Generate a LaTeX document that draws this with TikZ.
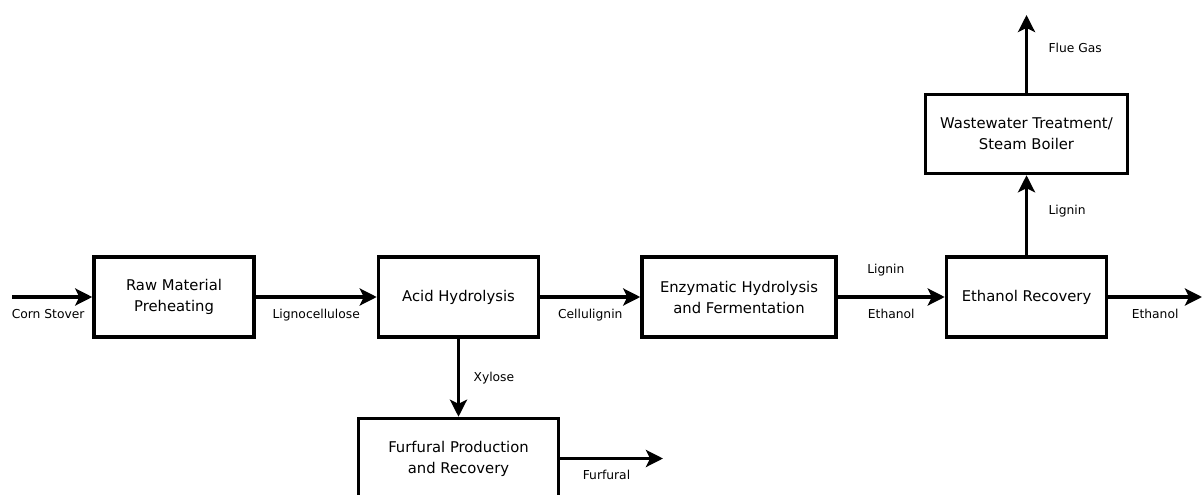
\documentclass[tikz,border=0pt]{standalone}
\usepackage{fontspec}
\setmainfont{DejaVu Sans}
\usetikzlibrary{arrows.meta,positioning}

\begin{document}
\begin{tikzpicture}[x=1pt,y=-1pt,-{Stealth[length=17pt,width=17pt,inset=4pt]},line width=3.5pt,
    proc node/.style={draw,-,minimum height=80pt,align=center,inner sep=2pt,font=\fontsize{14.8}{21}\selectfont},
    flow label/.style={draw=none,font=\fontsize{12.3}{14}\selectfont}]
                \clip (0,0) rectangle (1202,495);

                \node[proc node,minimum width=160pt] (raw) at (174,297) {Raw Material\\Preheating};
                \node[proc node,minimum width=160pt] (acid) [right=121pt of raw] {Acid Hydrolysis};
                \node[proc node,minimum width=194pt] (enz) [right=100pt of acid] {Enzymatic Hydrolysis\\and Fermentation};
                \node[proc node,minimum width=160pt] (ethrec) [right=107pt of enz] {Ethanol Recovery};
                \node[proc node,minimum width=202pt,minimum height=79pt] (ww) [above=80pt of ethrec] {Wastewater Treatment/\\Steam Boiler};
                \node[proc node,minimum width=200pt] (furf) [below=78pt of acid] {Furfural Production\\and Recovery};

                \coordinate (stover) at (12,297);
                \coordinate (ethout) at (1202,297);
                \coordinate (flue) at (ww.north |- 0,15);
                \coordinate (furfout) at (furf.east -| 663,0);

                \path
                    (stover) edge node[flow label,below=7pt,pos=0.45] {Corn Stover} (raw)
                    (raw) edge node[flow label,below=7pt] {Lignocellulose} (acid)
                    (acid) edge node[flow label,below=7pt] {Cellulignin} (enz)
                    (enz) edge node[flow label,above=16pt,pos=0.45] {Lignin} node[flow label,below=7pt] {Ethanol} (ethrec)
                    (ethrec) edge node[flow label,below=7pt] {Ethanol} (ethout)
                    (ethrec) edge node[flow label,right=17pt,pos=0.55] {Lignin} (ww)
                    (ww) edge node[flow label,right=17pt,pos=0.58] {Flue Gas} (flue)
                    (acid) edge node[flow label,right=10pt] {Xylose} (furf)
                    (furf) edge node[flow label,below=7pt,pos=0.45] {Furfural} (furfout)
                ;

            \end{tikzpicture}
\end{document}
